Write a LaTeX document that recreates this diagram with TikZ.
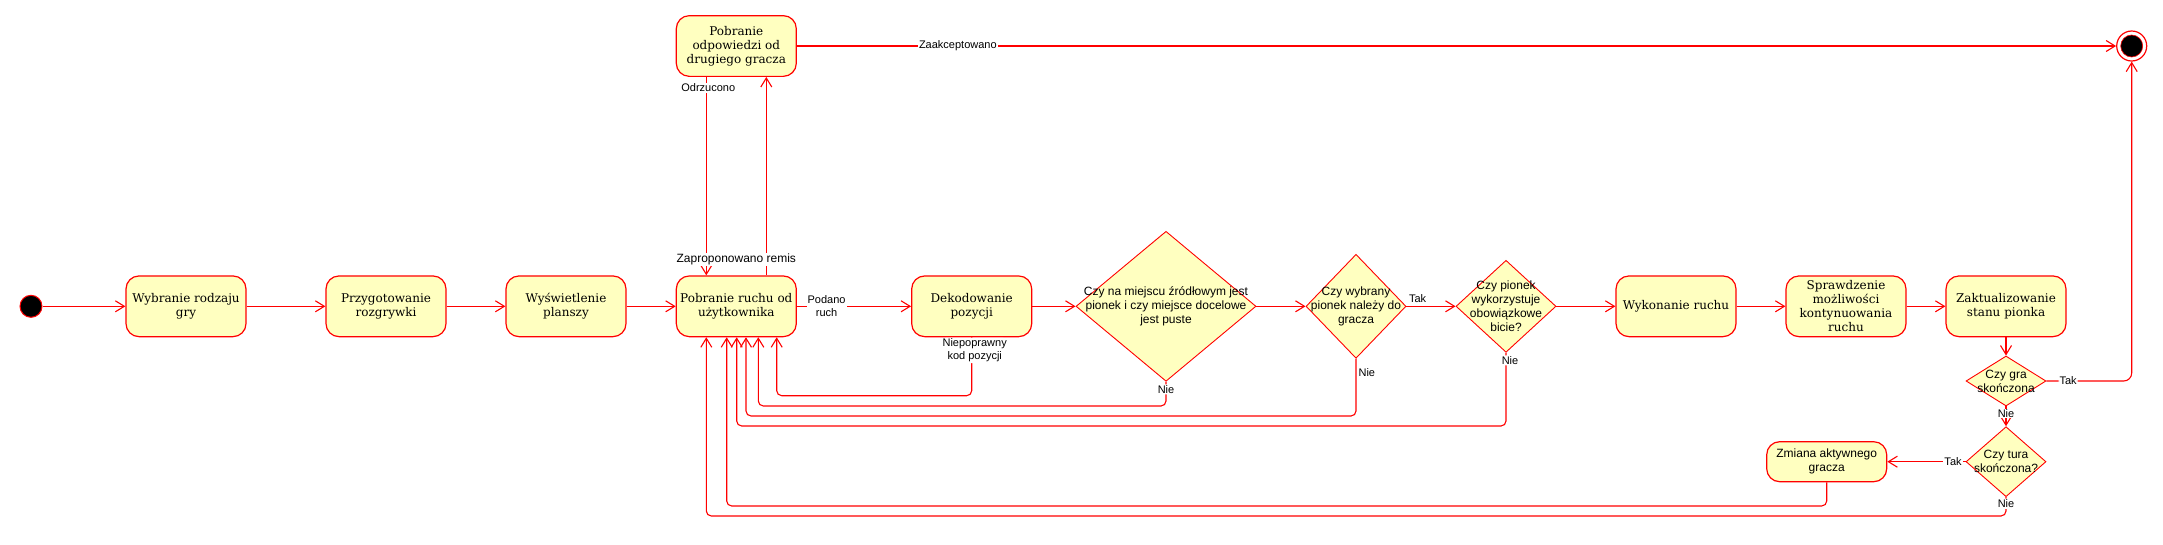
\documentclass[tikz,border=0pt]{standalone}
\usepackage{fontspec}
\setmainfont{DejaVu Serif}
\newfontfamily\lblfont{Liberation Sans}
\usetikzlibrary{arrows.meta,shapes.geometric,calc}
\definecolor{umlred}{HTML}{FF0000}
\definecolor{umlfill}{HTML}{FFFFC0}
\begin{document}
\begin{tikzpicture}[x=1pt,y=-1pt,
  state/.style={draw=umlred, fill=umlfill, line width=1.2pt, rounded corners=13pt,
    minimum width=120pt, minimum height=60.7pt, inner sep=0pt, align=center,
    text=black, font=\fontsize{12}{14}\selectfont},
  dia/.style={draw=umlred, fill=umlfill, line width=0.9pt, diamond, inner sep=0pt},
  dtext/.style={font=\lblfont\fontsize{12}{14}\selectfont, align=center, inner sep=0pt, text=black},
  flow/.style={draw=umlred, line width=1.1pt, -{Straight Barb[length=9pt,width=11pt]}},
  lbl/.style={font=\lblfont\fontsize{11}{13}\selectfont, fill=white, inner sep=1pt, align=center, text=black},
]
\useasboundingbox (0,0) rectangle (2163,544);

% nodes
\node[circle, fill=black, draw=umlred, line width=1pt, minimum size=22pt, inner sep=0pt] (init) at (31,306.3) {};
\node[state] (b1) at (186,306.3) {Wybranie rodzaju\\gry};
\node[state] (b2) at (386,306.3) {Przygotowanie\\rozgrywki};
\node[state] (b3) at (566,306.3) {Wyświetlenie\\planszy};
\node[state] (b4) at (736.3,306.3) {Pobranie ruchu od\\użytkownika};
\node[state] (top) at (736.3,46) {Pobranie\\odpowiedzi od\\drugiego gracza};
\node[state] (b5) at (971.7,306.3) {Dekodowanie\\pozycji};
\node[dia, minimum width=180pt, minimum height=150pt,
  label={[dtext]center:{Czy na miejscu źródłowym jest\\pionek i czy miejsce docelowe\\jest puste}}] (d1) at (1166,306.3) {};
\node[dia, minimum width=100pt, minimum height=104pt,
  label={[dtext]center:{Czy wybrany\\pionek należy do\\gracza}}] (d2) at (1356,306.3) {};
\node[dia, minimum width=100pt, minimum height=92pt,
  label={[dtext]center:{Czy pionek\\wykorzystuje\\obowiązkowe\\bicie?}}] (d3) at (1506,306.3) {};
\node[state] (b6) at (1676,306.3) {Wykonanie ruchu};
\node[state] (b7) at (1846,306.3) {Sprawdzenie\\możliwości\\kontynuowania\\ruchu};
\node[state] (b8) at (2006,306.3) {Zaktualizowanie\\stanu pionka};
\node[dia, minimum width=80pt, minimum height=50pt,
  label={[dtext]center:{Czy gra\\skończona}}] (d4) at (2006,381) {};
\node[dia, minimum width=80pt, minimum height=70pt,
  label={[dtext]center:{Czy tura\\skończona?}}] (d5) at (2006,461.7) {};
\node[state, minimum height=40pt, font=\lblfont\fontsize{12}{14}\selectfont] (b9) at (1826.7,461.7) {Zmiana aktywnego\\gracza};
\node[circle, draw=umlred, fill=white, line width=1.2pt, minimum size=30pt, inner sep=0pt] (fin) at (2131.7,46) {};
\node[circle, fill=black, draw=umlred, line width=0.6pt, minimum size=22pt, inner sep=0pt] (fincore) at (fin.center) {};

% entry points at bottom of b4 and y levels
\coordinate (in1) at ([xshift=40.4pt]b4.south);
\coordinate (in2) at ([xshift=22pt]b4.south);
\coordinate (in3) at ([xshift=9.7pt]b4.south);
\coordinate (in4) at ([xshift=0.4pt]b4.south);
\coordinate (in5) at ([xshift=-9.6pt]b4.south);
\coordinate (in6) at ([xshift=-30pt]b4.south);
\coordinate (yA) at (0,395.7);
\coordinate (yB) at (0,406);
\coordinate (yC) at (0,416);
\coordinate (yD) at (0,426);
\coordinate (yE) at (0,506);
\coordinate (yF) at (0,516);

% main flow
\draw[flow] (init) -- (b1);
\draw[flow] (b1) -- (b2);
\draw[flow] (b2) -- (b3);
\draw[flow] (b3) -- (b4);
\draw[flow] ([xshift=-30pt]top.south) -- node[lbl, pos=0.055, xshift=2pt]{Odrzucono} ([xshift=-30pt]b4.north);
\draw[flow] ([xshift=30pt]b4.north) -- node[lbl, pos=0.08, xshift=-30pt, font=\lblfont\fontsize{12}{14}\selectfont]{Zaproponowano remis} ([xshift=30pt]top.south);
\draw[flow] (top) -- node[lbl, pos=0.122]{Zaakceptowano} (fin);
\draw[flow] (b4) -- node[lbl, pos=0.26]{Podano\\ruch} (b5);
\draw[flow] (b5) -- (d1);
\draw[flow] (d1) -- (d2);
\draw[flow] (d2) -- node[lbl, fill=none, at start, anchor=south west, xshift=1pt, yshift=2pt]{Tak} (d3);
\draw[flow] (d3) -- (b6);
\draw[flow] (b6) -- (b7);
\draw[flow] (b7) -- (b8);
\draw[flow] (b8) -- (d4);
\draw[flow, rounded corners=8pt] (d4.east) -| node[lbl, pos=0.127]{Tak} (fin.south);
\draw[flow] (d4) -- node[lbl, pos=0.35, inner sep=0.5pt]{Nie} (d5);
\draw[flow] (d5) -- node[lbl, pos=0.16]{Tak} (b9);

% return paths
\draw[flow, rounded corners=5pt] (b5.south)
  node[lbl, anchor=north, xshift=3pt]{Niepoprawny\\kod pozycji}
  |- (in1 |- yA) -- (in1);
\draw[flow, rounded corners=5pt] (d1.south)
  node[lbl, anchor=north, yshift=-2pt]{Nie}
  |- (in2 |- yB) -- (in2);
\draw[flow, rounded corners=5pt] (d2.south)
  node[lbl, fill=none, anchor=north west, xshift=1pt, yshift=-8pt]{Nie}
  |- (in3 |- yC) -- (in3);
\draw[flow, rounded corners=5pt] (d3.south)
  node[lbl, anchor=north, xshift=4pt, yshift=-2pt]{Nie}
  |- (in4 |- yD) -- (in4);
\draw[flow, rounded corners=5pt] (b9.south) |- (in5 |- yE) -- (in5);
\draw[flow, rounded corners=5pt] (d5.south)
  node[lbl, anchor=north, yshift=-1pt]{Nie}
  |- (in6 |- yF) -- (in6);
\end{tikzpicture}
\end{document}
